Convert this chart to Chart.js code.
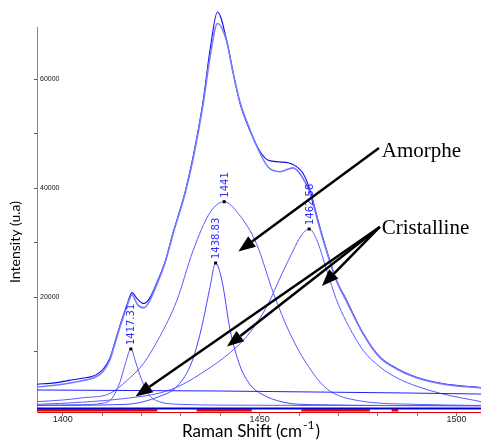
<!DOCTYPE html>
<html>
<head>
<meta charset="utf-8">
<script src="https://cdn.jsdelivr.net/npm/chart.js@4.4.0/dist/chart.umd.min.js"></script>
<style>
  body { margin: 0; background: #fff; }
</style>
</head>
<body>
<canvas id="raman" width="481" height="441"></canvas>
<script>
// window of the spectrum
const shiftMin = 1393.48, shiftMax = 1506.2;
const intensityMin = -1100, intensityMax = 69550;

const xTicks = [1400, 1410, 1420, 1430, 1440, 1450, 1460, 1470, 1480, 1490, 1500];
const yTicks = [10000, 20000, 30000, 40000, 50000, 60000];

const envShift = [1393.5, 1398, 1401.6, 1405, 1407.6, 1410.2, 1412, 1413.5, 1415, 1416.2, 1417.6, 1419, 1420.6, 1422, 1424, 1426, 1428.1, 1430, 1431, 1433.1, 1435.7, 1437.4, 1439.3, 1441.6, 1443.3, 1445, 1447.5, 1450.1, 1452.2, 1455.1, 1458.5, 1461, 1462.8, 1465, 1467, 1469.5, 1472, 1476.3, 1480.5, 1484.8, 1489, 1493.2, 1497.5, 1506.2];
const measured = [4000, 4250, 4700, 5100, 5450, 6700, 8800, 12300, 15800, 18300, 20800, 19600, 18800, 19700, 22800, 26500, 32000, 36500, 39000, 45700, 56200, 65300, 72300, 67200, 61100, 55600, 50600, 46700, 45100, 44800, 44300, 42700, 39600, 33600, 28600, 23100, 19500, 13300, 9000, 6900, 5500, 4600, 4000, 3400];
const fitted = [3500, 3800, 4200, 4650, 5100, 6300, 8500, 12000, 15500, 18000, 20400, 18600, 18000, 19200, 22500, 26300, 31800, 36300, 38800, 45300, 55600, 64000, 70200, 67000, 61000, 55800, 50800, 46400, 43800, 43000, 43700, 41800, 39000, 33300, 28400, 23000, 19300, 13200, 8900, 6800, 5400, 4500, 3900, 3300];

const baseShift = [1393.5, 1440, 1486, 1506.2];
const baseInt = [2940, 2750, 2400, 2200];

// fitted bands
const p1Shift = [1393.5, 1405, 1410, 1412.5, 1414.5, 1416, 1417.31, 1418.6, 1420, 1422, 1424.5, 1430, 1445, 1506.2];
const p1Int = [150, 250, 500, 1400, 4300, 8000, 10460, 7900, 4900, 2000, 800, 300, 150, 50];

const p2Shift = [1393.5, 1416, 1424.7, 1428.9, 1432.3, 1434, 1435.7, 1437.4, 1438.83, 1440.4, 1442.5, 1445, 1447.6, 1450, 1456, 1463, 1506.2];
const p2Int = [100, 300, 1800, 3500, 7200, 10800, 15800, 21800, 26240, 23100, 14000, 7400, 3900, 2400, 700, 250, 50];

const p3Shift = [1393.5, 1400, 1405, 1412, 1416.2, 1420.5, 1424.7, 1428.9, 1433.1, 1437.4, 1441, 1444.6, 1449.2, 1453.5, 1457.7, 1461.9, 1467, 1475, 1490, 1506.2];
const p3Int = [800, 1100, 1500, 2300, 4600, 7800, 12800, 19200, 28500, 35500, 37490, 35300, 29800, 20700, 13300, 7800, 3200, 1000, 300, 100];

const p4Shift = [1393.5, 1405, 1416, 1424.7, 1430, 1436.5, 1442, 1447, 1452, 1455.5, 1458.5, 1460.5, 1462.58, 1464.5, 1467, 1469.5, 1472, 1476.3, 1480.5, 1485, 1490, 1496, 1506.2];
const p4Int = [300, 700, 1400, 2400, 3800, 6600, 9500, 13000, 18500, 24000, 28500, 31200, 32480, 30500, 25000, 19500, 15500, 10200, 7200, 5100, 3600, 2300, 800];

// residual band at the bottom
const residShift = [1393.5, 1506.2];
const residInt = [-450, -450];
const redStart = [1393.5, 1434, 1460.6, 1483.5];
const redEnd = [1424, 1448, 1478, 1485.2];
const redLevel = -800;

// peak labels
const peakCenters = [1417.31, 1438.83, 1441, 1462.58];
const peakHeights = [10460, 26240, 37490, 32480];
const peakLabels = ['1417.31', '1438.83', '1441', '1462.58'];

// annotations, in data units
const notes = [
  { text: 'Amorphe', at: [1481.0, 45690] },
  { text: 'Cristalline', at: [1481.0, 31560] }
];
const arrows = [
  [[1480.3, 47340], [1444.6, 28350]],
  [[1480.5, 32850], [1465.8, 22020]],
  [[1480.5, 32850], [1441.7, 10920]],
  [[1480.5, 32850], [1418.5, 1740]]
];

const pts = (xs, ys) => xs.map((v, i) => ({ x: v, y: ys[i] }));

const redData = [];
redStart.forEach((s, i) => {
  redData.push({ x: s, y: redLevel }, { x: redEnd[i], y: redLevel }, { x: redEnd[i], y: null });
});

function curve(data, color, width, extra) {
  return Object.assign({
    data: data,
    borderColor: color,
    borderWidth: width,
    pointRadius: 0,
    fill: false,
    cubicInterpolationMode: 'monotone'
  }, extra || {});
}

function drawArrow(ctx, x0, y0, x1, y1) {
  const a = Math.atan2(y1 - y0, x1 - x0);
  const len = 17, half = 6.5;
  const bx = x1 - len * Math.cos(a), by = y1 - len * Math.sin(a);
  ctx.beginPath();
  ctx.moveTo(x0, y0);
  ctx.lineTo(bx, by);
  ctx.stroke();
  ctx.beginPath();
  ctx.moveTo(x1, y1);
  ctx.lineTo(bx + half * Math.sin(a), by - half * Math.cos(a));
  ctx.lineTo(bx - half * Math.sin(a), by + half * Math.cos(a));
  ctx.closePath();
  ctx.fill();
}

const overlay = {
  id: 'overlay',
  afterDraw(chart) {
    const ctx = chart.ctx;
    const x = chart.scales.x, y = chart.scales.y;
    ctx.save();

    // peak markers
    peakCenters.forEach((c, i) => {
      const px = x.getPixelForValue(c), py = y.getPixelForValue(peakHeights[i]);
      ctx.fillStyle = '#000';
      ctx.fillRect(px - 1.5, py - 1.5, 3, 3);
      ctx.save();
      ctx.translate(px + 1, py - 4);
      ctx.rotate(-Math.PI / 2);
      ctx.font = '10px "DejaVu Sans"';
      ctx.fillStyle = '#2a2aff';
      ctx.textAlign = 'left';
      ctx.textBaseline = 'middle';
      ctx.fillText(peakLabels[i], 0, 0);
      ctx.restore();
    });

    // arrows
    ctx.strokeStyle = '#000';
    ctx.fillStyle = '#000';
    ctx.lineWidth = 2.5;
    arrows.forEach(([from, to]) => {
      drawArrow(ctx, x.getPixelForValue(from[0]), y.getPixelForValue(from[1]),
        x.getPixelForValue(to[0]), y.getPixelForValue(to[1]));
    });

    ctx.font = '21px "Liberation Serif"';
    ctx.textAlign = 'left';
    ctx.textBaseline = 'alphabetic';
    notes.forEach(n => {
      ctx.fillText(n.text, x.getPixelForValue(n.at[0]), y.getPixelForValue(n.at[1]));
    });

    // axis titles
    ctx.fillStyle = '#000';
    ctx.font = '17px Lato';
    const t1 = 'Raman Shift (cm', t2 = '-1', t3 = ')';
    const w1 = ctx.measureText(t1).width, w3 = ctx.measureText(t3).width;
    ctx.font = '12px Lato';
    const w2 = ctx.measureText(t2).width;
    let sx = 250 - (w1 + w2 + w3) / 2;
    ctx.font = '17px Lato';
    ctx.fillText(t1, sx, 437);
    ctx.font = '12px Lato';
    ctx.fillText(t2, sx + w1 + 1, 429);
    ctx.font = '17px Lato';
    ctx.fillText(t3, sx + w1 + w2 + 2, 437);

    ctx.save();
    ctx.translate(15, 242);
    ctx.rotate(-Math.PI / 2);
    ctx.font = '14px Lato';
    ctx.textAlign = 'center';
    ctx.textBaseline = 'middle';
    ctx.fillText('Intensity (u.a)', 0, 0);
    ctx.restore();

    ctx.restore();
  }
};

new Chart(document.getElementById('raman'), {
  type: 'line',
  data: {
    datasets: [
      curve(pts(baseShift, baseInt), '#2020ff', 1, { cubicInterpolationMode: 'default', tension: 0 }),
      curve(pts(p1Shift, p1Int), '#5a5aff', 1),
      curve(pts(p2Shift, p2Int), '#4545ff', 1),
      curve(pts(p3Shift, p3Int), '#5a5aff', 1),
      curve(pts(p4Shift, p4Int), '#5a5aff', 1),
      curve(redData, '#dd0000', 2.5, { cubicInterpolationMode: 'default', tension: 0, spanGaps: false }),
      curve(pts(residShift, residInt), '#0000cc', 2, { cubicInterpolationMode: 'default', tension: 0 }),
      curve(pts(envShift, fitted), '#7a7aff', 1.6, { clip: false }),
      curve(pts(envShift, measured), '#0a0aee', 1.1, { clip: false })
    ]
  },
  options: {
    responsive: false,
    devicePixelRatio: 1,
    animation: false,
    layout: { padding: { top: 27, right: 0, bottom: 0, left: 0 } },
    plugins: { legend: { display: false }, tooltip: { enabled: false } },
    scales: {
      x: {
        type: 'linear',
        min: shiftMin,
        max: shiftMax,
        afterBuildTicks: s => { s.ticks = xTicks.map(v => ({ value: v })); },
        afterFit: s => { s.height = 29; },
        border: { color: '#e00000', width: 1 },
        grid: { drawOnChartArea: false, tickLength: 4, tickColor: '#777' },
        ticks: {
          padding: -2,
          maxRotation: 0,
          autoSkip: false,
          color: '#222',
          font: { family: 'Liberation Sans', size: 9 },
          callback: v => (v % 50 === 0 ? String(v) : '')
        }
      },
      y: {
        min: intensityMin,
        max: intensityMax,
        afterBuildTicks: s => { s.ticks = yTicks.map(v => ({ value: v })); },
        afterFit: s => { s.width = 37; },
        border: { color: '#888', width: 1 },
        grid: { drawOnChartArea: false, tickLength: 3, tickColor: '#555' },
        ticks: {
          mirror: true,
          padding: 3,
          color: '#111',
          font: { family: 'Liberation Sans', size: 7 },
          callback: v => (v % 20000 === 0 ? String(v) : '')
        }
      }
    }
  },
  plugins: [overlay]
});
</script>
</body>
</html>
